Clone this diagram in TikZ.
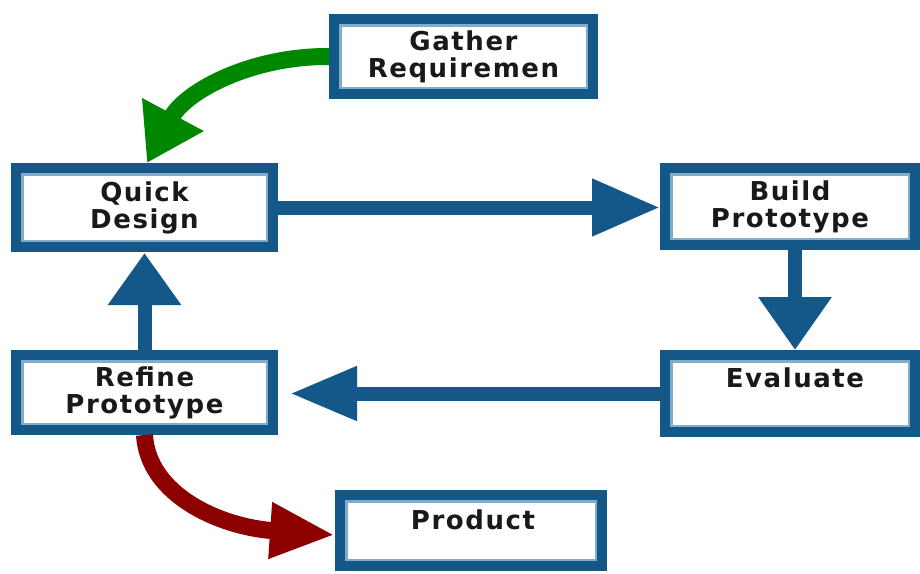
\documentclass[tikz,border=0pt]{standalone}
\usepackage{fontspec}
\newfontfamily\boxfont[LetterSpace=6]{DejaVu Sans}
\usetikzlibrary{arrows.meta}
\definecolor{boxblue}{RGB}{20,88,138}
\definecolor{edgeblue}{RGB}{130,172,200}
\definecolor{arrgreen}{RGB}{0,135,0}
\definecolor{arrred}{RGB}{140,0,0}
\definecolor{txt}{RGB}{25,25,25}
\begin{document}
\begin{tikzpicture}[x=1pt,y=-1pt,
  lbl/.style={inner sep=0pt, font=\boxfont\bfseries\fontsize{26}{27}\selectfont, text=txt, align=center},
  stepbox/.style={lbl, draw=boxblue, line width=10pt, fill=white, rectangle,
    path picture={\draw[edgeblue, line width=15pt] (path picture bounding box.north west) rectangle (path picture bounding box.south east);}},
  bluearrow/.style={draw=boxblue, line width=14pt},
]
\fill[white] (0,0) rectangle (920,573);
\path[use as bounding box] (0,0) rectangle (920,573);

\node[stepbox, minimum width=259pt, minimum height=75pt] (gather) at (463.5,56.5) {Gather\\Requiremen};
\node[stepbox, minimum width=257pt, minimum height=79pt] (quick) at (144.5,207.5) {Quick\\Design};
\node[stepbox, minimum width=250pt, minimum height=77pt] (build) at (790,206.5) {Build\\Prototype};
\node[stepbox, minimum width=250pt, minimum height=77pt] (eval) at (790,393.5) {};
\node[lbl] (evaltext) at (795,378) {Evaluate};
\node[stepbox, minimum width=257pt, minimum height=75pt] (refine) at (144.5,392.5) {Refine\\Prototype};
\node[stepbox, minimum width=262pt, minimum height=71pt] (product) at (471,530.5) {};
\node[lbl] (prodtext) at (473,520) {Product};

\draw[bluearrow, -{Triangle[length=68pt,width=54pt]}] (quick.east) -- (quick.east -| build.west);
\draw[bluearrow, -{Triangle[length=53pt,width=70pt]}] ([xshift=5pt]build.south) -- ([xshift=5pt]eval.north);
\draw[bluearrow, -{Triangle[length=67pt,width=51pt]}, shorten >=12pt] (eval.west) -- (eval.west -| refine.east);
\draw[bluearrow, -{Triangle[length=52pt,width=70pt]}, shorten >=1pt] (refine.north) -- (quick.south);

\draw[draw=arrgreen, line width=17pt, -{Triangle[length=55pt,width=66pt]}]
  (gather.west) .. controls (250,56) and (185,92) .. ([xshift=2.5pt]quick.north);
\draw[draw=arrred, line width=17pt, -{Triangle[length=65pt,width=52pt]}]
  (refine.south) .. controls (148,495) and (220,527) .. ([shift={(0,4.5)}]product.west);
\end{tikzpicture}
\end{document}
